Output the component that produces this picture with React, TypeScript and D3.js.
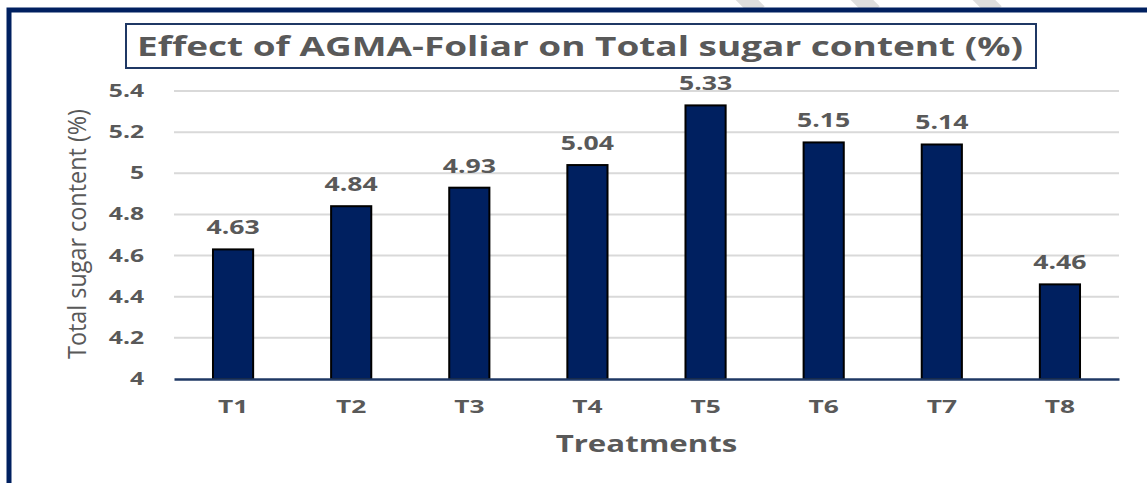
import * as d3 from 'd3'
import { useRef, useEffect } from 'react'

const categories = ['T1', 'T2', 'T3', 'T4', 'T5', 'T6', 'T7', 'T8']
const sugarValues = [4.63, 4.84, 4.93, 5.04, 5.33, 5.15, 5.14, 4.46]
const yTicks = [4, 4.2, 4.4, 4.6, 4.8, 5, 5.2, 5.4]

const chartTitle = 'Effect of AGMA-Foliar on Total sugar content (%)'
const xTitle = 'Treatments'
const yTitle = 'Total sugar content (%)'

const W = 1147
const H = 483
const plotLeft = 174
const plotRight = 1119
const plotTop = 91
const plotBottom = 379

const navy = '#002060'
const textGrey = '#595959'
const font = "'Open Sans', 'DejaVu Sans', sans-serif"

// the source picture is stretched sideways, so widen the text the same way
function stretch(sel: any, factor: number) {
  sel.each(function (this: SVGTextElement) {
    const w = this.getComputedTextLength()
    d3.select(this).attr('textLength', w * factor).attr('lengthAdjust', 'spacingAndGlyphs')
  })
}

const App = () => {
  const svgRef = useRef<SVGSVGElement>(null)

  useEffect(() => {
    const svg = d3.select(svgRef.current)
    svg.selectAll('*').remove() // clear

    const x = d3.scaleBand().domain(categories).range([plotLeft, plotRight]).paddingInner(0.66).paddingOuter(0.33)
    const y = d3.scaleLinear().domain([4, 5.4]).range([plotBottom, plotTop])

    svg.append('rect').attr('width', W).attr('height', H).attr('fill', '#fff')

    // faint page watermark peeking above the chart
    svg
      .append('g')
      .selectAll('line')
      .data([735, 850, 972])
      .enter()
      .append('line')
      .attr('x1', d => d)
      .attr('y1', -12)
      .attr('x2', d => d + 24)
      .attr('y2', 12)
      .attr('stroke', '#dedede')
      .attr('stroke-width', 16)

    // chart area + outer frame (right / bottom run off the picture)
    svg
      .append('rect')
      .attr('x', 9)
      .attr('y', 10)
      .attr('width', 1160)
      .attr('height', 520)
      .attr('fill', '#fff')
      .attr('stroke', navy)
      .attr('stroke-width', 5)

    // title box
    svg
      .append('rect')
      .attr('x', 126)
      .attr('y', 24)
      .attr('width', 910)
      .attr('height', 44)
      .attr('fill', '#fff')
      .attr('stroke', '#1f3864')
      .attr('stroke-width', 2)
    svg
      .append('text')
      .attr('x', 137)
      .attr('y', 56)
      .attr('font-family', font)
      .attr('font-weight', 700)
      .attr('font-size', 26)
      .attr('fill', textGrey)
      .attr('textLength', 886)
      .attr('lengthAdjust', 'spacingAndGlyphs')
      .text(chartTitle)

    // gridlines
    svg
      .append('g')
      .selectAll('line')
      .data(yTicks.slice(1))
      .enter()
      .append('line')
      .attr('x1', plotLeft)
      .attr('x2', plotRight)
      .attr('y1', d => y(d))
      .attr('y2', d => y(d))
      .attr('stroke', '#d9d9d9')
      .attr('stroke-width', 2)

    // y axis labels
    const yAxis = d3.axisLeft(y).tickValues(yTicks).tickSize(0).tickPadding(30).tickFormat(d => String(d))
    const gy = svg.append('g').attr('transform', `translate(${plotLeft},0)`).call(yAxis)
    gy.select('.domain').remove()
    gy.selectAll('text')
      .attr('font-family', font)
      .attr('font-weight', 700)
      .attr('font-size', 17)
      .attr('fill', textGrey)
    stretch(gy.selectAll('text'), 1.45)

    // bars
    svg
      .append('g')
      .selectAll('rect')
      .data(sugarValues)
      .enter()
      .append('rect')
      .attr('x', (d, i) => x(categories[i]))
      .attr('y', d => y(d))
      .attr('width', x.bandwidth())
      .attr('height', d => y(4) - y(d))
      .attr('fill', navy)
      .attr('stroke', '#000')
      .attr('stroke-width', 2)

    // value labels
    const labels = svg
      .append('g')
      .selectAll('text')
      .data(sugarValues)
      .enter()
      .append('text')
      .attr('x', (d, i) => x(categories[i]) + x.bandwidth() / 2)
      .attr('y', d => y(d) - 15)
      .attr('text-anchor', 'middle')
      .attr('font-family', font)
      .attr('font-weight', 700)
      .attr('font-size', 19)
      .attr('fill', textGrey)
      .text(d => d.toFixed(2))
    stretch(labels, 1.4)

    // x axis
    const xAxis = d3.axisBottom(x).tickSize(0).tickPadding(22)
    const gx = svg.append('g').attr('transform', `translate(0,${plotBottom})`).call(xAxis)
    gx.select('.domain').attr('stroke', '#1f3864').attr('stroke-width', 2.5)
    gx.selectAll('text')
      .attr('font-family', font)
      .attr('font-weight', 700)
      .attr('font-size', 17)
      .attr('fill', textGrey)
    stretch(gx.selectAll('text'), 1.55)

    // axis titles
    const xt = svg
      .append('text')
      .attr('x', (plotLeft + plotRight) / 2)
      .attr('y', 452)
      .attr('text-anchor', 'middle')
      .attr('font-family', font)
      .attr('font-weight', 700)
      .attr('font-size', 24)
      .attr('fill', textGrey)
      .text(xTitle)
    stretch(xt, 1.3)

    svg
      .append('text')
      .attr('transform', 'translate(86,234) rotate(-90)')
      .attr('text-anchor', 'middle')
      .attr('font-family', "'Liberation Sans Narrow', 'Open Sans', sans-serif")
      .attr('font-size', 26)
      .attr('fill', textGrey)
      .attr('textLength', 250)
      .attr('lengthAdjust', 'spacingAndGlyphs')
      .text(yTitle)
  }, [])

  return <svg ref={svgRef} width={W} height={H} style={{ position: 'absolute', left: 0, top: 0 }}></svg>
}

export default App
